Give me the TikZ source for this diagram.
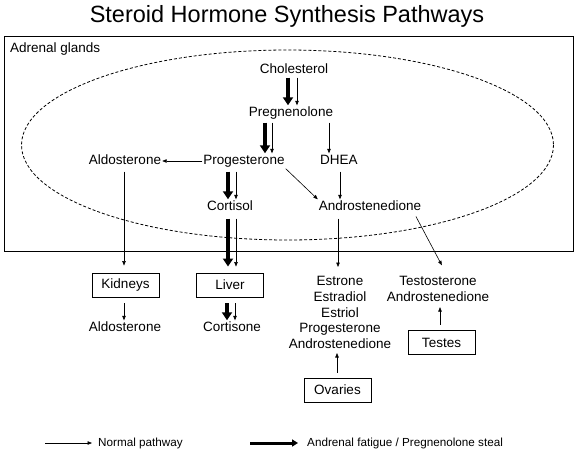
\documentclass[tikz,border=0pt]{standalone}
\usepackage{fontspec}
\setmainfont{Liberation Sans}
\usetikzlibrary{arrows.meta}
\begin{document}
\begin{tikzpicture}[x=1pt,y=-1pt,
  lbl/.style={font=\fontsize{13.5}{15.8}\selectfont, text height=10pt, text depth=3pt, inner sep=1pt},
  multi/.style={font=\fontsize{13.5}{15.8}\selectfont, align=center, inner sep=1pt},
  organ/.style={draw, line width=0.9pt, minimum width=67pt, minimum height=24pt, inner sep=0pt, font=\fontsize{13.5}{15.8}\selectfont},
  normal/.style={line width=0.6pt, -{Triangle[length=4.5pt,width=3.5pt]}},
  fatigue/.style={line width=3.5pt, -{Triangle[length=8pt,width=10pt]}},
  legtext/.style={anchor=west, font=\fontsize{11.7}{14}\selectfont, inner sep=0pt},
]
\useasboundingbox (0,0) rectangle (576,450);
\node[font=\fontsize{23.5}{27}\selectfont, anchor=base, inner sep=0pt] (title) at (287,22.5) {Steroid Hormone Synthesis Pathways};
\node[draw, line width=1.1pt, minimum width=569pt, minimum height=215pt, anchor=north west, inner sep=0pt] (adrenal) at (4,36) {};
\node[font=\fontsize{13.5}{15.8}\selectfont, anchor=base west, inner sep=0pt] (adlabel) at (10,52) {Adrenal glands};
\draw[dashed, line width=0.8pt, dash pattern=on 3pt off 2pt] (287.5,145) ellipse [x radius=266, y radius=95];

\node[lbl] (chol) at (294,70) {Cholesterol};
\node[lbl] (preg) at (291,113) {Pregnenolone};
\node[lbl] (prog) at (244,161) {Progesterone};
\node[lbl] (dhea) at (339,161) {DHEA};
\node[lbl] (aldo) at (125,161) {Aldosterone};
\node[lbl] (cort) at (230,207) {Cortisol};
\node[lbl] (andro) at (370,207) {Androstenedione};
\node[organ] (kid) at (125.5,285) {Kidneys};
\node[organ] (liver) at (230,285) {Liver};
\node[lbl] (aldo2) at (125,328) {Aldosterone};
\node[lbl] (cortisone) at (232,328) {Cortisone};
\node[multi, anchor=north] (estr) at (340,275) {Estrone\\Estradiol\\Estriol\\Progesterone\\Androstenedione};
\node[multi, anchor=north] (testo) at (438,275) {Testosterone\\Androstenedione};
\node[organ] (testes) at (441.5,342.5) {Testes};
\node[organ] (ovaries) at (337.5,390) {Ovaries};

\draw[fatigue] (chol.south -| 288,0) -- (preg.north -| 288,0);
\draw[normal] (chol.south -| 297,0) -- (preg.north -| 297,0);
\draw[fatigue, shorten <=2pt] (preg.south -| 265,0) -- (prog.north -| 265,0);
\draw[normal, shorten <=2pt] (preg.south -| 272,0) -- (prog.north -| 272,0);
\draw[normal, shorten <=2pt] (preg.south -| 329,0) -- (dhea.north -| 329,0);
\draw[normal] (prog.west) -- (aldo.east);
\draw[normal] (prog.south east) -- (andro.north west);
\draw[normal, shorten <=3pt] (dhea.south -| 340,0) -- (andro.north -| 340,0);
\draw[fatigue, shorten <=3pt] (prog.south -| 228,0) -- (cort.north -| 228,0);
\draw[normal, shorten <=3pt] (prog.south -| 236,0) -- (cort.north -| 236,0);
\draw[fatigue, shorten <=4pt, shorten >=6pt] (cort.south -| 228,0) -- (liver.north -| 228,0);
\draw[normal, shorten <=4pt, shorten >=6pt] (cort.south -| 236,0) -- (liver.north -| 236,0);
\draw[normal, shorten <=3pt, shorten >=7pt] (aldo.south -| 124,0) -- (kid.north -| 124,0);
\draw[normal, shorten <=4pt, shorten >=8pt] (andro.south -| 338,0) -- (estr.north -| 338,0);
\draw[normal, shorten <=2pt, shorten >=11pt] (andro.south -| 415,0) -- (testo.north -| 447,0);
\draw[normal, shorten <=6pt] (kid.south -| 124,0) -- (aldo2.north -| 124,0);
\draw[fatigue, shorten <=6pt] (liver.south -| 227,0) -- (cortisone.north -| 227,0);
\draw[normal, shorten <=6pt] (liver.south -| 235,0) -- (cortisone.north -| 235,0);
\draw[normal, shorten <=5.5pt, shorten >=4.5pt] (testes.north -| 440,0) -- (testo.south -| 440,0);
\draw[normal, shorten <=5pt, shorten >=3pt] (ovaries.north -| 337,0) -- (estr.south -| 337,0);

\coordinate (l1a) at (45,443);
\coordinate (l1b) at (92,443);
\draw[normal] (l1a) -- (l1b);
\node[legtext] (leg1) at (98,443) {Normal pathway};
\coordinate (l2a) at (250,443);
\coordinate (l2b) at (298,443);
\draw[fatigue, line width=3pt, -{Triangle[length=6pt,width=7pt]}] (l2a) -- (l2b);
\node[legtext] (leg2) at (307,443) {Andrenal fatigue / Pregnenolone steal};
\end{tikzpicture}
\end{document}
